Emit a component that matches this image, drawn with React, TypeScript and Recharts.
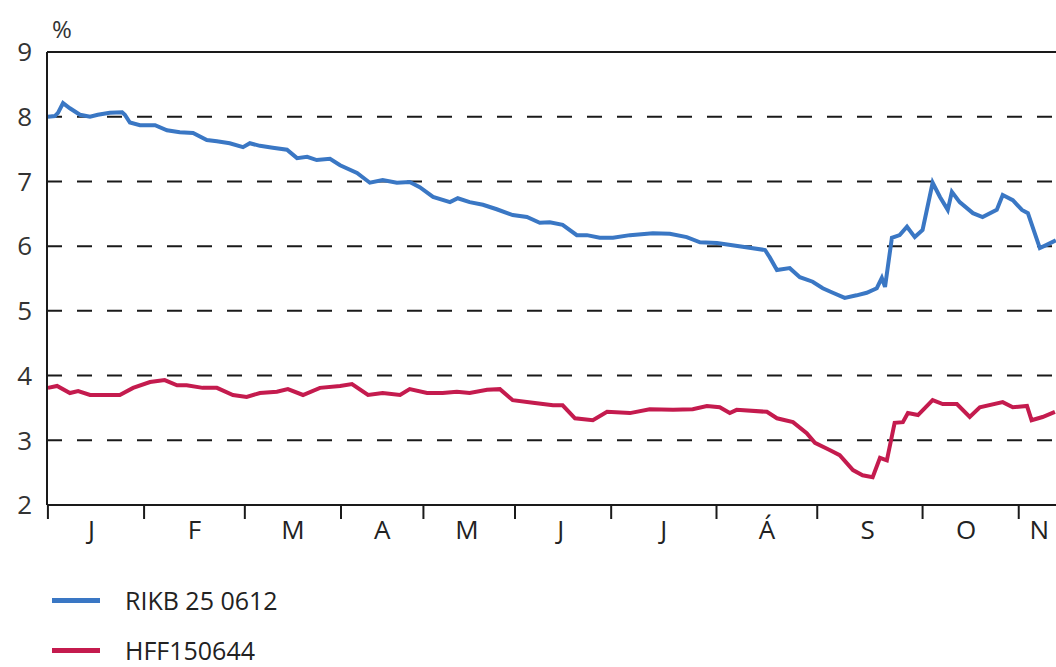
import { LineChart, Line, XAxis, YAxis, CartesianGrid, ReferenceLine } from 'recharts';

// trading-day index of each month start (Jan..Nov)
const MONTH_STARTS = [0, 21, 43, 64, 82, 102, 123, 146, 168, 191, 212];
const MONTH_LABELS = ['J', 'F', 'M', 'A', 'M', 'J', 'J', 'Á', 'S', 'O', 'N'];
const MONTH_LABEL_AT = [9.5, 32, 53.5, 73, 91.5, 112, 134.5, 157, 179, 200.5, 216.5];
const Y_TICKS = [2, 3, 4, 5, 6, 7, 8, 9];
const GRID_LEVELS = [3, 4, 5, 6, 7, 8];

const RIKB_DAY = [
  0, 1.5, 2.2, 3.3, 4.8, 7, 9.2, 10.9, 13.5, 16.2, 16.8, 17.9, 20.1, 23.4, 26, 28.8, 31.7, 34.7, 36.9, 39.7,
  42.6, 44.1, 46.3, 49.1, 52.2, 54.4, 56.6, 58.7, 61.6, 63.8, 67.5, 70.3, 73.1, 76.2, 79, 81.2, 84.1, 87.8, 89.5,
  92.1, 95, 98, 101.5, 104.6, 107.4, 109.6, 112.4, 115.5, 117.7, 120.5, 123.4, 127.1, 132.1, 135.8, 139.5, 142.4,
  146.1, 151.7, 156.6, 157.6, 159.2, 162, 164.2, 167, 169.2, 171.4, 174, 176.6, 178.8, 181, 182.1, 182.8, 184.3,
  186, 187.6, 189.3, 191, 193.2, 194.8, 196.5, 197.4, 199.1, 202, 204.1, 207.2, 208.5, 210.7, 212.7, 214, 216.6,
  218.1, 220.1,
];
const RIKB_YIELD = [
  8.0, 8.01, 8.06, 8.21, 8.13, 8.03, 8.0, 8.03, 8.06, 8.07, 8.03, 7.91, 7.87, 7.87, 7.79, 7.76, 7.75, 7.64, 7.62, 7.59,
  7.53, 7.59, 7.55, 7.52, 7.49, 7.36, 7.38, 7.33, 7.35, 7.25, 7.13, 6.98, 7.02, 6.98, 6.99, 6.91, 6.76, 6.68, 6.74,
  6.68, 6.64, 6.57, 6.48, 6.45, 6.36, 6.37, 6.33, 6.17, 6.17, 6.13, 6.13, 6.17, 6.2, 6.19, 6.14, 6.06,
  6.05, 5.99, 5.94, 5.83, 5.63, 5.66, 5.52, 5.45, 5.35, 5.28, 5.2, 5.24, 5.28, 5.35, 5.51, 5.37, 6.13,
  6.17, 6.3, 6.14, 6.25, 6.98, 6.76, 6.56, 6.84, 6.68, 6.51, 6.45, 6.56, 6.79, 6.71, 6.56, 6.51, 5.97,
  6.02, 6.09,
];

const HFF_DAY = [
  0, 2, 4.8, 6.6, 9.2, 12.9, 15.7, 18.6, 22.3, 25.5, 28.2, 30.3, 33.8, 36.9, 40.4, 43.4, 46.3, 50, 52.4, 55.7,
  59.4, 63.8, 66.4, 69.9, 73.1, 76.9, 79, 82.8, 86.2, 89.3, 92.1, 95.9, 98.7, 101.5, 105.9, 110.3, 112.4, 115.1,
  119, 122.1, 127.1, 131.4, 136.5, 140.8, 143.9, 146.7, 148.9, 150.4, 157, 159.2, 162.7, 165.7, 167.5, 170.7,
  172.9, 175.8, 177.9, 180.1, 181.7, 183.2, 184.9, 186.7, 187.8, 190, 193.2, 195.4, 198.5, 201.3, 203.5, 208.5,
  210.7, 213.8, 214.8, 217.2, 219.9,
];
const HFF_YIELD = [
  3.81, 3.84, 3.73, 3.76, 3.7, 3.7, 3.7, 3.81, 3.9, 3.93, 3.85, 3.85, 3.81, 3.81, 3.7, 3.67, 3.73, 3.75, 3.79, 3.7,
  3.81, 3.84, 3.87, 3.7, 3.73, 3.7, 3.79, 3.73, 3.73, 3.75, 3.73, 3.78, 3.79, 3.62, 3.58, 3.54, 3.54, 3.34,
  3.31, 3.44, 3.42, 3.48, 3.47, 3.48, 3.53, 3.51, 3.42, 3.47, 3.44, 3.34, 3.28, 3.11, 2.96, 2.85,
  2.77, 2.54, 2.46, 2.43, 2.73, 2.69, 3.27, 3.28, 3.42, 3.39, 3.62, 3.56, 3.56, 3.36, 3.51, 3.59,
  3.51, 3.53, 3.31, 3.36, 3.44,
];

const rikbData = RIKB_DAY.map((day, i) => ({ day, value: RIKB_YIELD[i] }));
const hffData = HFF_DAY.map((day, i) => ({ day, value: HFF_YIELD[i] }));
const xTicks = [...MONTH_STARTS, ...MONTH_LABEL_AT];

const BLUE = '#3a77c4';
const RED = '#c41b4e';
const INK = '#1a1a1a';
const FONT = '"Open Sans", "Noto Sans", sans-serif';
const X_DOMAIN: [number, number] = [-0.2, 230.4];

// month boundaries get a tick mark, month midpoints get the letter
function MonthTick(props: any) {
  const { x, y, payload } = props;
  const start = MONTH_STARTS.indexOf(payload.value);
  if (start >= 0) {
    return <line x1={x} x2={x} y1={y} y2={y + 14} stroke={INK} strokeWidth={2} />;
  }
  const i = MONTH_LABEL_AT.indexOf(payload.value);
  return (
    <text x={x} y={y + 34} textAnchor="middle" fill="#222" fontSize={26} fontFamily={FONT}>
      {MONTH_LABELS[i]}
    </text>
  );
}

export default function App() {
  return (
    <div style={{ position: 'absolute', left: 0, top: 0, width: 1056, height: 667, overflow: 'hidden', background: '#fff', fontFamily: FONT }}>
      <div style={{ position: 'absolute', left: 52, top: 12, fontSize: 24, color: '#333' }}>%</div>
      <LineChart width={1103} height={667} margin={{ top: 52, right: 0, bottom: 112, left: 0 }}>
        <CartesianGrid horizontal vertical={false} horizontalValues={GRID_LEVELS} stroke={INK} strokeWidth={2} strokeDasharray="15 15" />
        <ReferenceLine y={9} stroke={INK} strokeWidth={2} />
        <XAxis
          dataKey="day"
          type="number"
          domain={X_DOMAIN}
          allowDataOverflow
          ticks={xTicks}
          interval={0}
          height={50}
          tickSize={0}
          tickMargin={0}
          tick={MonthTick}
          axisLine={{ stroke: INK, strokeWidth: 2 }}
          tickLine={false}
        />
        <YAxis
          type="number"
          domain={[2, 9]}
          ticks={Y_TICKS}
          interval={0}
          width={47}
          tickSize={0}
          tickMargin={15}
          axisLine={{ stroke: INK, strokeWidth: 2 }}
          tickLine={false}
          tick={{ fill: '#333', fontSize: 26, fontFamily: FONT }}
        />
        <Line data={rikbData} dataKey="value" type="linear" stroke={BLUE} strokeWidth={4} dot={false} isAnimationActive={false} />
        <Line data={hffData} dataKey="value" type="linear" stroke={RED} strokeWidth={4} dot={false} isAnimationActive={false} />
      </LineChart>
      <div style={{ position: 'absolute', left: 52, top: 584, fontSize: 25, color: '#222', lineHeight: '32px' }}>
        <div style={{ display: 'flex', alignItems: 'center' }}>
          <span style={{ display: 'inline-block', width: 48, height: 5, background: BLUE, marginRight: 25 }} />
          RIKB 25 0612
        </div>
        <div style={{ display: 'flex', alignItems: 'center', marginTop: 18 }}>
          <span style={{ display: 'inline-block', width: 48, height: 5, background: RED, marginRight: 25 }} />
          HFF150644
        </div>
      </div>
    </div>
  );
}
